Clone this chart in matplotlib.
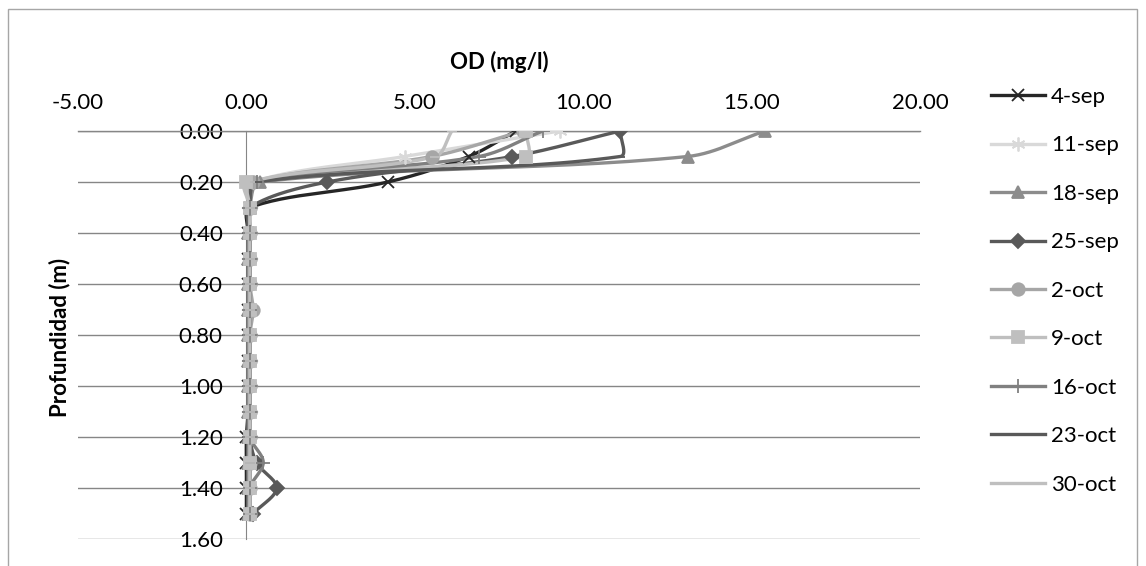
import numpy as np
import matplotlib
matplotlib.use("Agg")
import matplotlib.pyplot as plt
from matplotlib.patches import Rectangle

plt.rcParams['font.family'] = ['Lato', 'DejaVu Sans']

# Dissolved oxygen profiles (mg/l) by depth (m)
depth = [0.0, 0.1, 0.2, 0.3, 0.4, 0.5, 0.6, 0.7, 0.8, 0.9, 1.0, 1.1, 1.2, 1.3, 1.4, 1.5]
dates = ["4-sep", "11-sep", "18-sep", "25-sep", "2-oct", "9-oct", "16-oct", "23-oct", "30-oct"]

od_4sep = [8.0, 6.6, 4.2, 0.1, 0.05, 0.05, 0.05, 0.05, 0.05, 0.05, 0.05, 0.05, 0.0, 0.0, 0.0, 0.0]
od_11sep = [9.3, 4.7, 0.2, 0.1, 0.1, 0.1, 0.1, 0.1, 0.1, 0.1, 0.1, 0.1, 0.1, 0.1, 0.1, 0.1]
od_18sep = [15.4, 13.1, 0.4, 0.1, 0.05, 0.05, 0.05, 0.05, 0.05, 0.05, 0.05, 0.05, 0.05, 0.05, 0.05, 0.05]
od_25sep = [11.1, 7.9, 2.4, 0.1, 0.1, 0.1, 0.1, 0.1, 0.1, 0.1, 0.1, 0.1, 0.1, 0.3, 0.9, 0.2]
od_2oct = [8.2, 5.5, 0.2, 0.1, 0.1, 0.1, 0.1, 0.2, 0.1, 0.1, 0.1, 0.1, 0.1, 0.1, 0.1, 0.1]
od_9oct = [8.3, 8.3, 0.0, 0.1, 0.1, 0.1, 0.1, 0.1, 0.1, 0.1, 0.1, 0.1, 0.1, 0.1, 0.1, 0.1]
od_16oct = [8.8, 6.9, 0.3, 0.1, 0.1, 0.1, 0.1, 0.1, 0.1, 0.1, 0.1, 0.1, 0.1, 0.5, 0.1, 0.1]
od_23oct = [11.1, 11.1, 0.3, 0.1, 0.1, 0.1, 0.1, 0.1, 0.1, 0.1, 0.1, 0.1, 0.1, 0.1, 0.1, 0.1]
od_30oct = [6.1, 5.6, 0.1, 0.1, 0.1, 0.1, 0.1, 0.1, 0.1, 0.1, 0.1, 0.1, 0.1, 0.1, 0.1, 0.1]

series = [od_4sep, od_11sep, od_18sep, od_25sep, od_2oct, od_9oct, od_16oct, od_23oct, od_30oct]
colors = ["#262626", "#d9d9d9", "#8c8c8c", "#595959", "#a6a6a6", "#bfbfbf", "#808080", "#595959", "#bfbfbf"]
markers = ["x", (6, 2, 0), "^", "D", "o", "s", "+", "_", "_"]
msizes = [9, 10, 9, 7, 9, 8, 10, 7, 7]

x_ticks = [-5, 0, 5, 10, 15, 20]
y_ticks = [0.0, 0.2, 0.4, 0.6, 0.8, 1.0, 1.2, 1.4, 1.6]

FS = 16
W, H = 1146, 566
fig = plt.figure(figsize=(W / 100, H / 100), dpi=100)
fig.patches.append(Rectangle((8 / W, -0.05), (1137 - 8) / W, (H - 9) / H + 0.05,
                             transform=fig.transFigure, fill=False,
                             edgecolor="#a6a6a6", lw=1.0))

ax = fig.add_axes([78 / W, 1 - 539 / H, (920 - 78) / W, (539 - 131) / H])
ax.set_xlim(-5, 20)
ax.set_ylim(1.6, 0.0)


def smooth(xs, ys, n=30):
    """Bezier smoothing through the points (display space), with control
    arms scaled by the neighbouring segment lengths."""
    pts = ax.transData.transform(np.column_stack([xs, ys]))
    out = [pts[0]]
    m = len(pts)
    for i in range(m - 1):
        p0 = pts[i - 1] if i > 0 else pts[i]
        p1 = pts[i]
        p2 = pts[i + 1]
        p3 = pts[i + 2] if i + 2 < m else pts[i + 1]
        d12 = np.hypot(*(p2 - p1))
        d01 = np.hypot(*(p1 - p0))
        d23 = np.hypot(*(p3 - p2))
        w1 = d12 / (d01 + d12) if d01 + d12 > 0 else 0
        w2 = d12 / (d12 + d23) if d12 + d23 > 0 else 0
        c1 = p1 + (p2 - p0) * w1 / 3.0
        c2 = p2 - (p3 - p1) * w2 / 3.0
        t = np.linspace(0, 1, n)[1:, None]
        seg = ((1 - t) ** 3) * p1 + 3 * ((1 - t) ** 2) * t * c1 + 3 * (1 - t) * t ** 2 * c2 + t ** 3 * p2
        out.extend(seg)
    out = np.array(out)
    back = ax.transData.inverted().transform(out)
    return back[:, 0], back[:, 1]


handles = []
for vals, col, mk, ms, lab in zip(series, colors, markers, msizes, dates):
    sx, sy = smooth(vals, depth)
    ax.plot(sx, sy, color=col, lw=2.4, solid_capstyle="round", zorder=3)
    ax.plot(vals, depth, ls="none", marker=mk, ms=ms, color=col,
            markeredgecolor=col, markeredgewidth=1.3, zorder=4)
    h, = ax.plot([], [], color=col, lw=2.4, marker=mk, ms=ms,
                 markeredgecolor=col, markeredgewidth=1.3, label=lab)
    handles.append(h)

ax.set_xticks(x_ticks)
ax.set_xticklabels([f"{v:.2f}" for v in x_ticks])
ax.set_yticks(y_ticks)
ax.set_yticklabels([f"{v:.2f}" for v in y_ticks])
ax.xaxis.tick_top()
ax.tick_params(axis="x", length=0, pad=13, labelsize=FS)
ax.tick_params(axis="y", length=0, pad=17, labelsize=FS)

for s in ["right", "bottom"]:
    ax.spines[s].set_visible(False)
ax.spines["left"].set_position(("data", 0))
ax.spines["left"].set_color("#868686")
ax.spines["top"].set_color("#868686")
ax.spines["top"].set_linewidth(1.0)
ax.yaxis.grid(True, color="#868686", lw=1.0)
ax.set_axisbelow(True)

fig.text(499 / W, 1 - 62 / H, "OD (mg/l)", ha="center", va="center",
         fontsize=FS, fontweight="bold")
fig.text(60 / W, 1 - 337 / H, "Profundidad (m)", ha="center", va="center",
         rotation=90, fontsize=FS, fontweight="bold")

fig.legend(handles=handles, loc="upper left", bbox_to_anchor=(991 / W, 1 - 87 / H),
           frameon=False, fontsize=FS, handlelength=2.45, handletextpad=0.25,
           labelspacing=1.28, borderpad=0, borderaxespad=0)

fig.savefig("out.png", dpi=100)
